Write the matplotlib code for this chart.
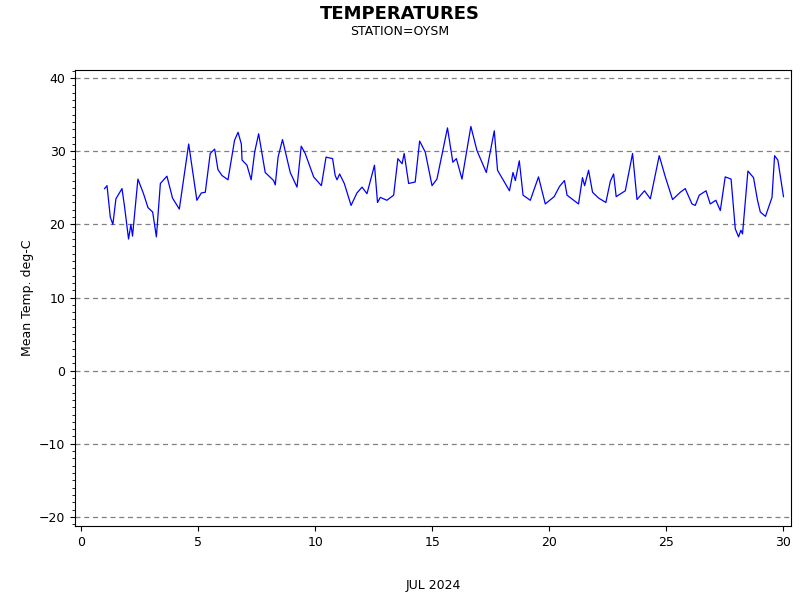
import matplotlib
matplotlib.use("Agg")
import matplotlib.pyplot as plt
from matplotlib.ticker import MultipleLocator

# day of month (fractional) and mean temperature
days = [0.996, 1.10, 1.24, 1.35, 1.48, 1.74, 1.85, 2.02, 2.12, 2.19, 2.42, 2.66, 2.85, 3.05, 3.21,
        3.38, 3.66, 3.90, 4.19, 4.59, 4.94, 5.13, 5.30, 5.51, 5.70, 5.84, 6.01, 6.27, 6.55, 6.70,
        6.84, 6.87, 7.08, 7.26, 7.41, 7.58, 7.86, 8.22, 8.29, 8.41, 8.60, 8.93, 9.22, 9.40, 9.57,
        9.93, 10.26, 10.46, 10.74, 10.85, 10.93, 11.04, 11.24, 11.53, 11.78, 12.00, 12.21, 12.53,
        12.66, 12.78, 13.06, 13.35, 13.53, 13.71, 13.80, 13.99, 14.27, 14.46, 14.70, 14.99, 15.20,
        15.65, 15.88, 16.03, 16.27, 16.65, 16.91, 17.31, 17.65, 17.79, 18.30, 18.45, 18.55, 18.72,
        18.88, 19.19, 19.54, 19.83, 20.21, 20.44, 20.65, 20.76, 21.25, 21.42, 21.51, 21.68, 21.85,
        22.11, 22.42, 22.61, 22.75, 22.86, 23.25, 23.56, 23.75, 24.07, 24.32, 24.70, 24.96, 25.27,
        25.60, 25.81, 26.10, 26.24, 26.41, 26.70, 26.88, 27.12, 27.31, 27.52, 27.77, 27.95, 28.09,
        28.19, 28.26, 28.49, 28.73, 28.90, 29.02, 29.24, 29.52, 29.63, 29.77, 30.01]
temps = [24.9, 25.3, 21.0, 20.0, 23.5, 24.9, 22.4, 18.0, 20.0, 18.4, 26.2, 24.2, 22.3, 21.7, 18.3,
         25.6, 26.6, 23.6, 22.1, 31.0, 23.3, 24.3, 24.4, 29.7, 30.3, 27.5, 26.7, 26.1, 31.5, 32.6,
         31.0, 28.8, 28.1, 26.1, 29.9, 32.4, 27.1, 26.0, 25.4, 29.2, 31.6, 27.1, 25.1, 30.7, 29.7,
         26.5, 25.3, 29.2, 29.0, 26.7, 26.1, 26.9, 25.6, 22.6, 24.3, 25.1, 24.2, 28.1, 23.0, 23.7,
         23.3, 24.0, 29.0, 28.3, 29.7, 25.6, 25.8, 31.4, 29.9, 25.3, 26.2, 33.2, 28.5, 29.0, 26.2,
         33.4, 30.1, 27.1, 32.8, 27.4, 24.6, 27.1, 26.0, 28.7, 24.0, 23.3, 26.5, 22.8, 23.8, 25.2,
         26.0, 24.0, 22.8, 26.4, 25.3, 27.4, 24.4, 23.6, 23.0, 25.9, 26.9, 23.8, 24.6, 29.7, 23.4,
         24.6, 23.5, 29.4, 26.5, 23.4, 24.4, 24.9, 22.8, 22.6, 24.0, 24.6, 22.8, 23.3, 21.9, 26.5,
         26.2, 19.4, 18.3, 19.2, 18.7, 27.3, 26.4, 23.3, 21.7, 21.1, 23.7, 29.4, 28.8, 23.8]

fig = plt.figure(figsize=(8, 6), dpi=100)
ax = fig.add_axes([0.094, 0.123, 0.895, 0.760])
ax.plot(days, temps, color="blue", linewidth=0.9)

ax.set_xlim(-0.26, 30.34)
ax.set_ylim(-21.27, 41.09)
ax.set_xticks(range(0, 31, 5))
ax.set_yticks(range(-20, 41, 10))
ax.yaxis.set_minor_locator(MultipleLocator(1))
ax.tick_params(labelsize=9)
for y in range(-20, 41, 10):
    ax.axhline(y, color="gray", linestyle=(0, (4, 3)), linewidth=0.9, zorder=0)

ax.set_ylabel("Mean Temp. deg-C", fontsize=9)
ax.set_xlabel("JUL 2024", fontsize=9, labelpad=22)
fig.text(0.5, 0.968, "TEMPERATURES", ha="center", fontsize=13, fontweight="bold")
fig.text(0.5, 0.942, "STATION=OYSM", ha="center", fontsize=9)

fig.savefig("out.png")
